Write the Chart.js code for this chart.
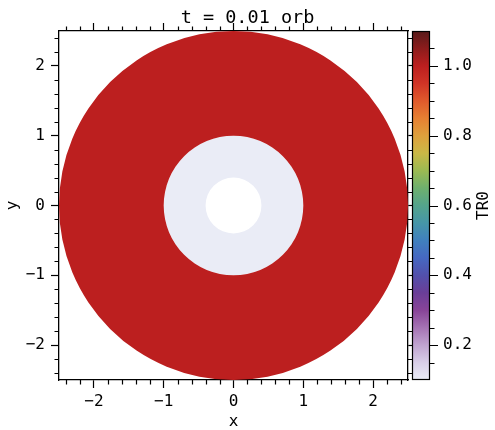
<!DOCTYPE html>
<html>
<head>
<meta charset="utf-8">
<script src="https://cdn.jsdelivr.net/npm/chart.js@4/dist/chart.umd.min.js"></script>
<style>
  html, body { margin: 0; padding: 0; background: #ffffff; }
  canvas { display: block; }
</style>
</head>
<body>
<canvas id="chart" width="495" height="430"></canvas>
<script>
// TR0 tracer field at t = 0.01 orb, axisymmetric: each ring has inner radius, outer radius and value
const ringInner = [0.4, 1.0];
const ringOuter = [1.0, 2.5];
const ringValue = [0.1, 1.0];

// axis ranges and labelled ticks
const xRange = [-2.5, 2.5];
const yRange = [-2.5, 2.5];
const cbRange = [0.1, 1.1];
const xTicks = [-2, -1, 0, 1, 2];
const yTicks = [-2, -1, 0, 1, 2];
const cbTicks = [0.2, 0.4, 0.6, 0.8, 1.0];

// colour map: value -> rgb
const cmapValues = [0.1, 0.15, 0.2, 0.25, 0.3, 0.35, 0.4, 0.45, 0.5, 0.55, 0.6, 0.65, 0.7, 0.75, 0.8, 0.85, 0.9, 0.95, 1.0, 1.05, 1.1];
const cmapColors = [
  [234,236,246], [216,206,232], [192,164,208], [165,115,180], [136,68,152],
  [106,62,152], [82,80,172], [70,104,194], [64,128,190], [70,150,168],
  [84,164,140], [110,176,110], [155,186,82], [202,184,70], [222,160,60],
  [230,128,50], [224,90,44], [208,52,38], [188,31,31], [140,28,28], [88,26,26]
];

const MONO = "'DejaVu Sans Mono', monospace";
const INK = '#000000';

function colorAt(v) {
  const n = cmapValues.length;
  if (v <= cmapValues[0]) return 'rgb(' + cmapColors[0].join(',') + ')';
  if (v >= cmapValues[n - 1]) return 'rgb(' + cmapColors[n - 1].join(',') + ')';
  for (let i = 0; i < n - 1; i++) {
    if (v >= cmapValues[i] && v <= cmapValues[i + 1]) {
      const t = (v - cmapValues[i]) / (cmapValues[i + 1] - cmapValues[i]);
      const c = cmapColors[i].map((a, k) => Math.round(a + t * (cmapColors[i + 1][k] - a)));
      return 'rgb(' + c.join(',') + ')';
    }
  }
}

function fmtSigned(v) {
  return v < 0 ? '\u2212' + Math.abs(v) : String(v);
}

// minor tick positions every `step` inside a range, skipping labelled ones
function minorTicks(range, step, skip) {
  const out = [];
  const k0 = Math.ceil(range[0] / step - 1e-9), k1 = Math.floor(range[1] / step + 1e-9);
  for (let k = k0; k <= k1; k++) {
    const v = +(k * step).toFixed(6);
    if (!skip.some(s => Math.abs(s - v) < 1e-9)) out.push(v);
  }
  return out;
}

// rings of the field, drawn through the x / y scales
const fieldPlugin = {
  id: 'field',
  beforeDatasetsDraw(chart) {
    const { ctx, chartArea: a, scales: { x, y } } = chart;
    const cx = x.getPixelForValue(0), cy = y.getPixelForValue(0);
    ctx.save();
    ctx.beginPath();
    ctx.rect(a.left, a.top, a.right - a.left, a.bottom - a.top);
    ctx.clip();
    for (let i = 0; i < ringValue.length; i++) {
      const rox = x.getPixelForValue(ringOuter[i]) - cx;
      const roy = cy - y.getPixelForValue(ringOuter[i]);
      const rix = x.getPixelForValue(ringInner[i]) - cx;
      const riy = cy - y.getPixelForValue(ringInner[i]);
      ctx.beginPath();
      ctx.ellipse(cx, cy, rox, roy, 0, 0, Math.PI * 2, false);
      ctx.moveTo(cx + rix, cy);
      ctx.ellipse(cx, cy, rix, riy, 0, 0, Math.PI * 2, true);
      ctx.fillStyle = colorAt(ringValue[i]);
      ctx.fill('evenodd');
    }
    ctx.restore();
  }
};

// minor ticks on the frame, and the colour bar with its ticks and label
const frameAndBarPlugin = {
  id: 'frameAndBar',
  afterDraw(chart) {
    const { ctx, chartArea: a, scales } = chart;
    const { x, y, cb } = scales;
    ctx.save();
    ctx.strokeStyle = INK;
    ctx.lineWidth = 1.2;
    const minorLen = 4.5;
    ctx.beginPath();
    for (const v of minorTicks(xRange, 0.2, xTicks)) {
      const px = Math.round(x.getPixelForValue(v)) + 0.5;
      ctx.moveTo(px, a.bottom); ctx.lineTo(px, a.bottom + minorLen);
      ctx.moveTo(px, a.top); ctx.lineTo(px, a.top - minorLen);
    }
    for (const v of minorTicks(yRange, 0.2, yTicks)) {
      const py = Math.round(y.getPixelForValue(v)) + 0.5;
      ctx.moveTo(a.left, py); ctx.lineTo(a.left - minorLen, py);
      ctx.moveTo(a.right, py); ctx.lineTo(a.right + minorLen, py);
    }
    ctx.stroke();

    // colour bar
    const barL = cb.left, barR = cb.left + 18;
    const top = cb.getPixelForValue(cbRange[1]), bot = cb.getPixelForValue(cbRange[0]);
    const g = ctx.createLinearGradient(0, bot, 0, top);
    cmapValues.forEach((v, i) => {
      g.addColorStop((v - cbRange[0]) / (cbRange[1] - cbRange[0]), 'rgb(' + cmapColors[i].join(',') + ')');
    });
    ctx.fillStyle = g;
    ctx.fillRect(barL, top, barR - barL, bot - top);
    ctx.lineWidth = 1.2;
    ctx.strokeRect(barL + 0.5, top + 0.5, barR - barL - 1, bot - top - 1);

    ctx.beginPath();
    for (const v of cbTicks) {
      const py = Math.round(cb.getPixelForValue(v)) + 0.5;
      ctx.moveTo(barR - 0.5, py); ctx.lineTo(barR + 8, py);
    }
    for (const v of minorTicks(cbRange, 0.05, cbTicks.concat(cbRange))) {
      const py = Math.round(cb.getPixelForValue(v)) + 0.5;
      ctx.moveTo(barR - 0.5, py); ctx.lineTo(barR + minorLen, py);
    }
    ctx.stroke();

    // colour bar label, reading bottom to top
    ctx.fillStyle = INK;
    ctx.font = '16px ' + MONO;
    ctx.textAlign = 'center';
    ctx.textBaseline = 'middle';
    ctx.translate(484, (top + bot) / 2);
    ctx.rotate(-Math.PI / 2);
    ctx.fillText('TR0', 0, 0);
    ctx.restore();
  }
};

const tickFont = { family: MONO, size: 16 };

// fixed box sizes, no extra end padding for tick labels
function fixSize(w, h) {
  return (s) => {
    if (w !== null) s.width = w;
    if (h !== null) s.height = h;
    s.paddingTop = 0; s.paddingBottom = 0; s.paddingLeft = 0; s.paddingRight = 0;
  };
}

function frameAxis(position, range, ticks, opts) {
  return Object.assign({
    type: 'linear',
    position: position,
    min: range[0],
    max: range[1],
    afterBuildTicks: (s) => { s.ticks = ticks.map(v => ({ value: v })); },
    grid: { drawOnChartArea: false, drawTicks: true, tickLength: 8, tickColor: INK, tickWidth: 1.2 },
    border: { display: true, color: INK, width: 1.3 },
    ticks: { display: false, font: tickFont, color: INK }
  }, opts);
}

new Chart(document.getElementById('chart'), {
  type: 'scatter',
  data: { datasets: [] },
  options: {
    responsive: false,
    animation: false,
    devicePixelRatio: 1,
    layout: { padding: 0 },
    plugins: {
      legend: { display: false },
      tooltip: { enabled: false },
      title: {
        display: true,
        text: 't = 0.01 orb',
        color: INK,
        font: { family: MONO, size: 18.5, weight: 'normal', lineHeight: 1.0 },
        padding: { top: 9, bottom: -4.5 }
      }
    },
    scales: {
      x: frameAxis('bottom', xRange, xTicks, {
        ticks: { display: true, font: tickFont, color: INK, padding: 4, maxRotation: 0, autoSkip: false, callback: fmtSigned },
        title: { display: true, text: 'x', color: INK, font: { family: MONO, size: 16, lineHeight: 1.0 }, padding: 0 },
        afterFit: fixSize(null, 50)
      }),
      x2: frameAxis('top', xRange, xTicks, {
        afterFit: fixSize(null, 8)
      }),
      y: frameAxis('left', yRange, yTicks, {
        ticks: { display: true, font: tickFont, color: INK, padding: 6, autoSkip: false, callback: fmtSigned },
        title: { display: true, text: 'y', color: INK, font: { family: MONO, size: 16, lineHeight: 1.0 }, padding: { top: 5, bottom: 0 } },
        afterFit: fixSize(59, null)
      }),
      y2: frameAxis('right', yRange, yTicks, {
        weight: 0,
        grid: { drawOnChartArea: false, drawTicks: true, tickLength: 4, tickColor: INK, tickWidth: 1.2 },
        afterFit: fixSize(4, null)
      }),
      cb: {
        type: 'linear',
        position: 'right',
        weight: 1,
        min: cbRange[0],
        max: cbRange[1],
        afterBuildTicks: (s) => { s.ticks = cbTicks.map(v => ({ value: v })); },
        grid: { display: false, drawTicks: false, drawOnChartArea: false },
        border: { display: false },
        ticks: { display: true, font: tickFont, color: INK, padding: 31, callback: (v) => v.toFixed(1) },
        afterFit: fixSize(83, null)
      }
    }
  },
  plugins: [fieldPlugin, frameAndBarPlugin]
});
</script>
</body>
</html>
